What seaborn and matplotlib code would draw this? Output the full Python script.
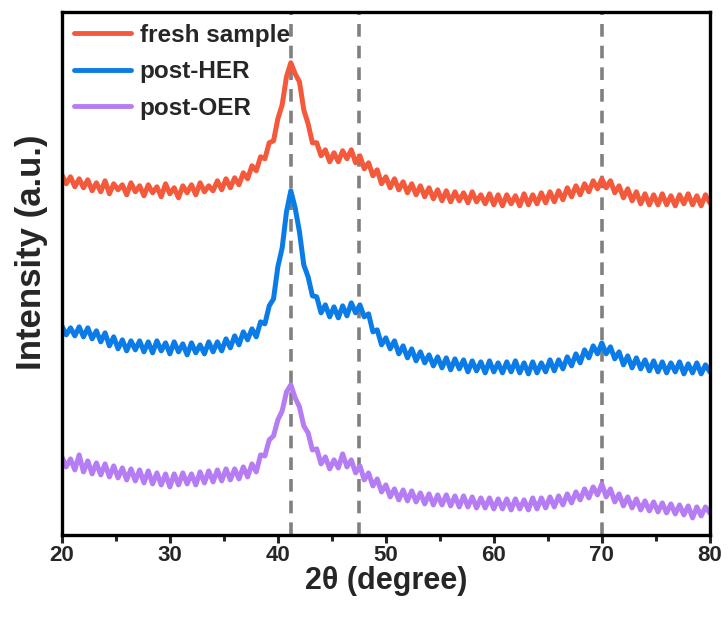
import matplotlib
matplotlib.use("Agg")
import matplotlib.pyplot as plt
from matplotlib.ticker import MultipleLocator
import numpy as np
import pandas as pd
import seaborn as sns

# 2theta grid, 0.4 degree steps from 20 to 80
two_theta = np.round(np.arange(20.0, 80.01, 0.4), 1)

# intensities (a.u.), 5 points = 2 degrees per row
fresh = [
    360, 351, 358, 348, 356,  # 20
    347, 355, 344, 352, 343,  # 22
    354, 341, 351, 345, 350,  # 24
    340, 352, 343, 349, 339,  # 26
    350, 342, 348, 338, 351,  # 28
    341, 347, 337, 349, 342,  # 30
    350, 340, 352, 343, 349,  # 32
    344, 354, 345, 356, 347,  # 34
    357, 350, 362, 356, 369,  # 36
    364, 378, 376, 392, 394,  # 38
    416, 430, 458, 472, 461,  # 40
    453, 425, 411, 392, 392,  # 42
    379, 385, 373, 382, 373,  # 44
    384, 376, 385, 372, 379,  # 46
    366, 372, 359, 365, 351,  # 48
    358, 347, 356, 345, 353,  # 50
    342, 351, 340, 349, 338,  # 52
    347, 336, 345, 334, 344,  # 54
    333, 343, 334, 342, 332,  # 56
    343, 333, 340, 331, 341,  # 58
    330, 340, 329, 340, 331,  # 60
    339, 329, 341, 330, 340,  # 62
    331, 342, 332, 343, 333,  # 64
    344, 335, 347, 338, 349,  # 66
    340, 351, 343, 354, 346,  # 68
    356, 347, 354, 342, 349,  # 70
    337, 346, 334, 343, 331,  # 72
    341, 330, 340, 330, 341,  # 74
    330, 339, 329, 340, 331,  # 76
    341, 330, 339, 329, 340,  # 78
    332,                      # 80
]

post_her = [
    209, 200, 207, 199, 208,  # 20
    198, 207, 196, 204, 193,  # 22
    202, 189, 198, 186, 195,  # 24
    184, 194, 185, 194, 183,  # 26
    193, 182, 194, 184, 192,  # 28
    181, 193, 183, 191, 180,  # 30
    192, 182, 190, 181, 193,  # 32
    183, 193, 184, 196, 187,  # 34
    199, 190, 203, 195, 206,  # 36
    198, 213, 211, 229, 236,  # 38
    268, 287, 323, 344, 327,  # 40
    303, 270, 258, 239, 238,  # 42
    222, 230, 218, 228, 217,  # 44
    229, 219, 232, 222, 230,  # 46
    218, 221, 203, 205, 190,  # 48
    197, 186, 194, 181, 189,  # 50
    177, 186, 174, 183, 172,  # 52
    180, 169, 178, 167, 177,  # 54
    165, 176, 166, 175, 163,  # 56
    174, 164, 173, 162, 174,  # 58
    163, 172, 162, 173, 163,  # 60
    174, 162, 172, 161, 173,  # 62
    162, 172, 163, 175, 164,  # 64
    175, 166, 178, 169, 181,  # 66
    172, 185, 177, 189, 181,  # 68
    192, 181, 188, 176, 183,  # 70
    170, 179, 167, 177, 166,  # 72
    175, 164, 174, 163, 173,  # 74
    162, 172, 163, 173, 161,  # 76
    171, 162, 172, 161, 170,  # 78
    163,                      # 80
]

post_oer = [
    78, 68, 76, 65, 80,       # 20
    63, 74, 61, 72, 60,       # 22
    71, 58, 69, 57, 67,       # 24
    55, 66, 54, 65, 52,       # 26
    64, 51, 62, 50, 61,       # 28
    48, 61, 50, 62, 51,       # 30
    61, 50, 63, 52, 64,       # 32
    53, 65, 54, 66, 55,       # 34
    66, 56, 68, 58, 71,       # 36
    63, 80, 79, 95, 99,       # 38
    115, 124, 143, 150, 137,  # 40
    128, 109, 102, 85, 86,    # 42
    71, 78, 66, 75, 67,       # 44
    81, 68, 75, 62, 69,       # 46
    55, 62, 49, 56, 43,       # 48
    50, 38, 46, 35, 45,       # 50
    34, 44, 33, 42, 31,       # 52
    41, 30, 40, 30, 40,       # 54
    29, 39, 28, 39, 28,       # 56
    38, 27, 37, 27, 37,       # 58
    26, 36, 26, 36, 25,       # 60
    36, 26, 35, 25, 37,       # 62
    26, 37, 27, 38, 28,       # 64
    39, 30, 41, 32, 43,       # 66
    35, 46, 37, 48, 40,       # 68
    51, 38, 46, 33, 41,       # 70
    29, 38, 27, 36, 25,       # 72
    34, 24, 33, 23, 32,       # 74
    22, 31, 21, 30, 20,       # 76
    29, 17, 28, 19, 28,       # 78
    22,                       # 80
]

labels = ["fresh sample", "post-HER", "post-OER"]
colors = ["#F4593B", "#0B7BE8", "#B57CF4"]
ref_lines = [41.2, 47.5, 70.0]

df = pd.concat([
    pd.DataFrame({"two_theta": two_theta, "intensity": vals, "sample": lab})
    for vals, lab in zip([fresh, post_her, post_oer], labels)
])

sns.set_style("ticks")
plt.rcParams['font.family'] = ['Liberation Sans', 'DejaVu Sans']
plt.rcParams['font.weight'] = 'bold'

fig = plt.figure(figsize=(7.28, 6.17), dpi=100)
ax = fig.add_axes([0.085, 0.133, 0.89, 0.848])

sns.lineplot(data=df, x="two_theta", y="intensity", hue="sample",
             palette=dict(zip(labels, colors)), estimator=None,
             linewidth=3.6, ax=ax)

for xv in ref_lines:
    ax.axvline(xv, color="#808080", linestyle=(0, (3.5, 2.5)), linewidth=2.6, zorder=0)

ax.set_xlim(20, 80)
ax.set_ylim(0, 523)
ax.xaxis.set_major_locator(MultipleLocator(10))
ax.xaxis.set_minor_locator(MultipleLocator(5))
ax.tick_params(axis="x", which="major", direction="out", length=6, width=2.2,
               labelsize=16, pad=1)
ax.tick_params(axis="x", which="minor", direction="out", length=4, width=2.2)
ax.set_yticks([])
for lab in ax.get_xticklabels():
    lab.set_fontweight("bold")
for sp in ax.spines.values():
    sp.set_linewidth(2.4)
    sp.set_color("black")

ax.set_xlabel("2θ (degree)", fontsize=22, fontweight="bold", labelpad=0)
ax.set_ylabel("Intensity (a.u.)", fontsize=25, fontweight="bold")
ax.yaxis.set_label_coords(-0.022, 0.54)

leg = ax.legend(loc="upper left", frameon=False, fontsize=17.5,
                handlelength=2.35, handletextpad=0.35, labelspacing=0.55,
                borderaxespad=0.0, borderpad=0.5)
for h in leg.get_lines():
    h.set_linewidth(3.5)
for t in leg.get_texts():
    t.set_fontweight("bold")

fig.savefig("out.png", dpi=100)
